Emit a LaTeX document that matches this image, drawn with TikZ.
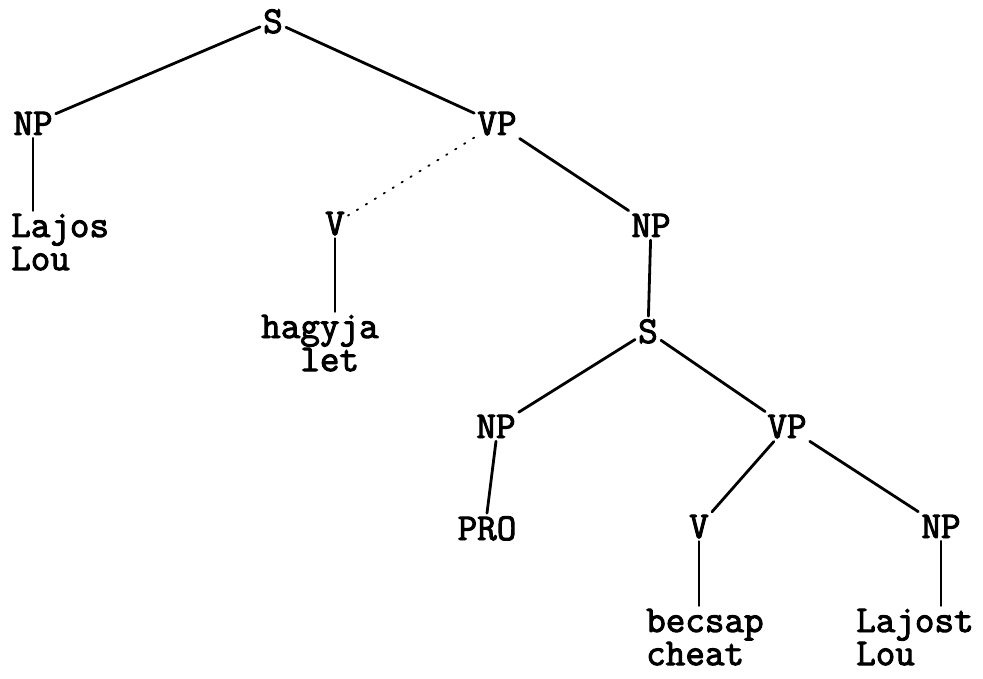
\documentclass[tikz,border=0pt]{standalone}
\usepackage{fontspec}
\newfontfamily\tw{Latin Modern Mono}[FakeBold=2.6]
\begin{document}
\begin{tikzpicture}[x=1pt,y=-1pt,
  lbl/.style={font=\tw\fontsize{38}{33}\selectfont, inner sep=3pt, anchor=base},
  words/.style={lbl, anchor=base west},
  branch/.style={line width=2.8pt, line cap=round},
  faint/.style={line width=1.8pt, line cap=round, dash pattern=on 1.5pt off 9pt}]
\useasboundingbox (0,0) rectangle (983,679);
% category labels
\node[lbl] (S1) at (273,33) {S};
\node[lbl] (NP1) at (33,135) {NP};
\node[lbl] (VP1) at (497,135) {VP};
\node[lbl] (V1) at (335,235) {V};
\node[lbl] (NP2) at (651,237) {NP};
\node[lbl] (S2) at (648,343) {S};
\node[lbl] (NP3) at (496,438) {NP};
\node[lbl] (VP2) at (787,438) {VP};
\node[lbl] (PRO) at (487,540) {PRO};
\node[lbl] (V2) at (699,538) {V};
\node[lbl] (NP4) at (941,538) {NP};
% words
\node[words] (lajos) at (8,237) {\begin{tabular}[t]{@{}l@{}}Lajos\\Lou\end{tabular}};
\node[words] (hagyja) at (258,338) {\begin{tabular}[t]{@{}l@{}}hagyja\\\phantom{ha}let\end{tabular}};
\node[words] (becsap) at (643,632) {\begin{tabular}[t]{@{}l@{}}becsap\\cheat\end{tabular}};
\node[words] (lajost) at (853,632) {\begin{tabular}[t]{@{}l@{}}Lajost\\Lou\end{tabular}};
% branches
\draw[branch] (S1) -- (NP1);
\draw[branch] (S1) -- (VP1);
\draw[faint] (VP1) -- (V1);
\draw[branch] (VP1) -- (NP2);
\draw[branch] (NP1.south) -- (NP1.south |- lajos.north);
\draw[branch] (V1.south) -- (V1.south |- hagyja.north);
\draw[branch] (NP2) -- (S2);
\draw[branch] (S2) -- (NP3);
\draw[branch] (S2) -- (VP2);
\draw[branch] (NP3.south) -- (PRO.north);
\draw[branch] (VP2) -- (V2);
\draw[branch] (VP2) -- (NP4);
\draw[branch] (V2.south) -- (V2.south |- becsap.north);
\draw[branch] (NP4.south) -- (NP4.south |- lajost.north);
\end{tikzpicture}
\end{document}
